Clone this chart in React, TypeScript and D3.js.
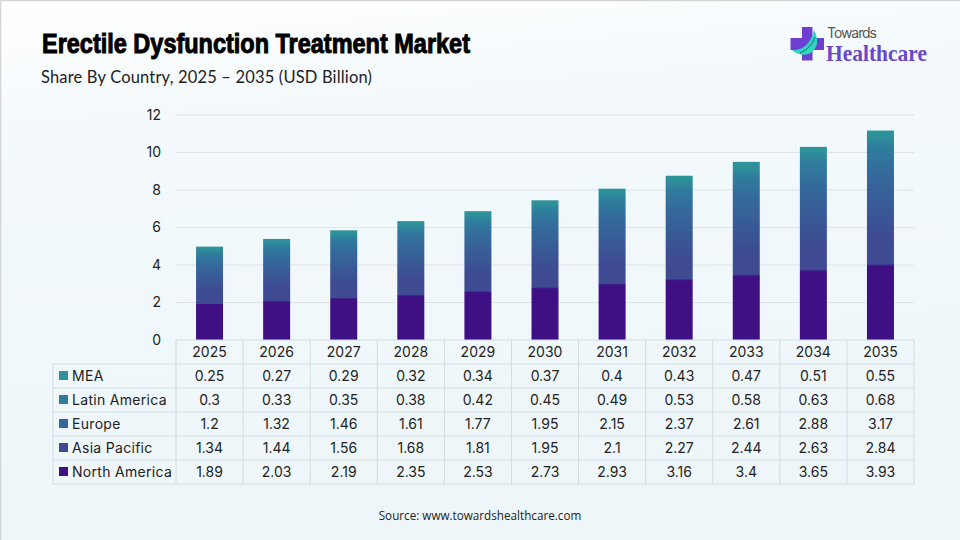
import React from "react";
import * as d3 from "d3";

const years = ["2025", "2026", "2027", "2028", "2029", "2030", "2031", "2032", "2033", "2034", "2035"];
const northAmerica = [1.89, 2.03, 2.19, 2.35, 2.53, 2.73, 2.93, 3.16, 3.4, 3.65, 3.93];
const asiaPacific = [1.34, 1.44, 1.56, 1.68, 1.81, 1.95, 2.1, 2.27, 2.44, 2.63, 2.84];
const europe = [1.2, 1.32, 1.46, 1.61, 1.77, 1.95, 2.15, 2.37, 2.61, 2.88, 3.17];
const latinAmerica = [0.3, 0.33, 0.35, 0.38, 0.42, 0.45, 0.49, 0.53, 0.58, 0.63, 0.68];
const mea = [0.25, 0.27, 0.29, 0.32, 0.34, 0.37, 0.4, 0.43, 0.47, 0.51, 0.55];
const yTicks = [0, 2, 4, 6, 8, 10, 12];

// bottom to top of the stack
const seriesNames = ["North America", "Asia Pacific", "Europe", "Latin America", "MEA"];
const seriesValues = [northAmerica, asiaPacific, europe, latinAmerica, mea];
const seriesColors = ["#3f0f84", "#3e4a92", "#346a9b", "#2f7d9d", "#2d9299"];

const tableFont = "Inter, 'Noto Sans', sans-serif";

const x = d3.scaleBand<string>().domain(years).range([176, 914]).paddingInner(0).paddingOuter(0);
const y = d3.scaleLinear().domain([0, 12]).range([340, 115]);
const barWidth = 27;

const rows = years.map((year, i) => {
  const row: Record<string, number | string> = { year };
  seriesNames.forEach((name, s) => (row[name] = seriesValues[s][i]));
  return row;
});
const stacked = d3.stack<Record<string, number | string>>().keys(seriesNames)(rows as any);

// table rows run top to bottom, reverse of the stack
const tableOrder = [4, 3, 2, 1, 0];
const rowY = d3.scaleBand<number>().domain([0, 1, 2, 3, 4]).range([364, 484]);
const lineColor = "#cfdde2";

// The upper segments melt into each other in the picture, only North America has a crisp edge
function barStops(i: number) {
  const total = stacked[stacked.length - 1][i][1];
  const offset = d3.scaleLinear().domain([total, 0]).range([0, 1]);
  const naTop = stacked[0][i][1];
  const stops: { at: number; color: string }[] = [
    { at: 0, color: seriesColors[4] },
    { at: offset((stacked[4][i][0] + total) / 2), color: seriesColors[4] },
    { at: offset((stacked[3][i][0] + stacked[3][i][1]) / 2), color: seriesColors[3] },
    { at: offset(stacked[2][i][1] - (stacked[2][i][1] - stacked[2][i][0]) / 3), color: seriesColors[2] },
    { at: offset((stacked[1][i][0] + stacked[1][i][1]) / 2), color: seriesColors[1] },
    { at: offset(naTop) - 0.012, color: seriesColors[1] },
    { at: offset(naTop), color: seriesColors[0] },
    { at: 1, color: seriesColors[0] },
  ];
  return stops;
}

export default function App() {
  return (
    <svg
      width={960}
      height={540}
      style={{ position: "absolute", left: 0, top: 0, display: "block" }}
    >
      <defs>
        <linearGradient id="bg" x1="0" y1="0" x2="0.15" y2="1">
          <stop offset="0" stopColor="#ffffff" />
          <stop offset="0.25" stopColor="#f3f9fc" />
          <stop offset="1" stopColor="#eef6fa" />
        </linearGradient>
        {years.map((year, i) => (
          <linearGradient
            key={year}
            id={`bar-${year}`}
            gradientUnits="userSpaceOnUse"
            x1={0}
            x2={0}
            y1={y(stacked[4][i][1])}
            y2={y(0)}
          >
            {barStops(i).map((s, k) => (
              <stop key={k} offset={s.at} stopColor={s.color} />
            ))}
          </linearGradient>
        ))}
      </defs>
      <rect width={960} height={540} fill="url(#bg)" />
      <path d="M0.5,540V0.5H960" fill="none" stroke="#d4d4d4" strokeWidth={1.5} />

      <text
        x={42}
        y={53}
        fontFamily="'Liberation Sans Narrow', sans-serif"
        fontWeight={700}
        fontSize={28}
        stroke="#000"
        strokeWidth={1}
        textLength={428}
        lengthAdjust="spacingAndGlyphs"
      >
        Erectile Dysfunction Treatment Market
      </text>
      <text x={41} y={83} fontFamily="Lato, sans-serif" fontSize={16.5} fill="#222" textLength={331}>
        Share By Country, 2025 – 2035 (USD Billion)
      </text>

      {/* logo */}
      <g>
        <path d="M802,27h10.5v11h11.5v12h-11.5v10.5h-10.5v-10.5h-11.5v-12h11.5z" fill="#6d3fd0" />
        <path d="M792,50C802,51 811,44 814,30C820,41 817,50 809,54C803,56 796,54 792,50Z" fill="#2fd6bf" />
        <path d="M800,53C807,50 812,45 815,37" fill="none" stroke="#2a5f8f" strokeWidth={1} />
        <text x={827} y={38} fontFamily="Inter, sans-serif" fontSize={14} fill="#555" textLength={50}>
          Towards
        </text>
        <text
          x={826}
          y={61}
          fontFamily="'Liberation Serif', serif"
          fontWeight={700}
          fontSize={24}
          fill="#6b48c8"
          textLength={101}
          lengthAdjust="spacingAndGlyphs"
        >
          Healthcare
        </text>
      </g>

      {/* grid and y axis */}
      {yTicks.map((t) => (
        <g key={t}>
          {t > 0 && <line x1={176} x2={914} y1={y(t)} y2={y(t)} stroke="#dfe4e5" />}
          <text
            x={161}
            y={y(t)}
            dy="0.35em"
            textAnchor="end"
            fontFamily={tableFont}
            fontSize={14}
            fill="#222"
          >
            {t}
          </text>
        </g>
      ))}

      {/* bars */}
      {years.map((year, i) => (
        <rect
          key={year}
          x={x(year)! + (x.bandwidth() - barWidth) / 2}
          width={barWidth}
          y={y(stacked[4][i][1])}
          height={y(0) - y(stacked[4][i][1])}
          fill={`url(#bar-${year})`}
        />
      ))}

      {/* data table */}
      <g fontFamily={tableFont} fontSize={14} fill="#222">
        {years.map((year) => (
          <text
            key={year}
            x={x(year)! + x.bandwidth() / 2}
            y={352}
            dy="0.35em"
            textAnchor="middle"
          >
            {year}
          </text>
        ))}
        {tableOrder.map((s, r) => (
          <g key={seriesNames[s]}>
            <rect x={59} y={rowY(r)! + 7} width={9} height={9} fill={seriesColors[s]} />
            <text x={72} y={rowY(r)! + 12} dy="0.35em" letterSpacing={0.3}>
              {seriesNames[s]}
            </text>
            {seriesValues[s].map((v, i) => (
              <text
                key={years[i]}
                x={x(years[i])! + x.bandwidth() / 2}
                y={rowY(r)! + 12}
                dy="0.35em"
                textAnchor="middle"
              >
                {v}
              </text>
            ))}
          </g>
        ))}
      </g>
      <g stroke={lineColor} fill="none">
        <line x1={176} x2={914} y1={340} y2={340} />
        {rowY.domain().map((r) => (
          <line key={r} x1={53} x2={914} y1={rowY(r)} y2={rowY(r)} />
        ))}
        <line x1={53} x2={914} y1={484} y2={484} />
        <line x1={53} x2={53} y1={364} y2={484} />
        <line x1={176} x2={176} y1={340} y2={484} />
        {years.map((year) => (
          <line key={year} x1={x(year)! + x.bandwidth()} x2={x(year)! + x.bandwidth()} y1={340} y2={484} />
        ))}
      </g>

      <text
        x={480}
        y={520}
        textAnchor="middle"
        fontFamily="'Open Sans', sans-serif"
        fontSize={11.7}
        fill="#222"
      >
        Source: www.towardshealthcare.com
      </text>
    </svg>
  );
}
